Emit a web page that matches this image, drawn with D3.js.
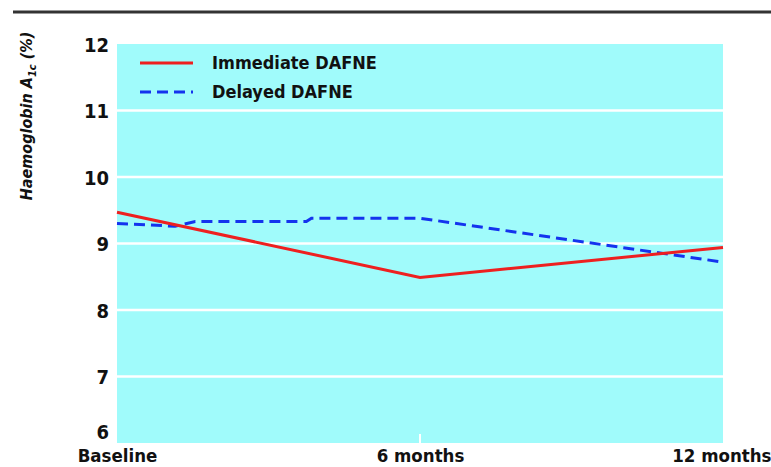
<!DOCTYPE html>
<html><head><meta charset="utf-8">
<script src="https://cdn.jsdelivr.net/npm/d3@7"></script>
<style>
body{margin:0;background:#fff;}
text{font-family:"Liberation Sans Narrow","Arial Narrow","DejaVu Sans Condensed",sans-serif;font-weight:bold;fill:#111;}
</style></head><body>
<svg id="c" width="771" height="467"></svg>
<script>
// Data (months on x; values in %)
const xTickValues = [0, 6, 12];
const xTickLabels = ["Baseline", "6 months", "12 months"];
const yTicks = [6, 7, 8, 9, 10, 11, 12];
const seriesNames = ["Immediate DAFNE", "Delayed DAFNE"];
const immediateMonths = [0, 6, 12];
const immediateValues = [9.47, 8.49, 8.94];
const delayedMonths = [0, 1.15, 1.55, 3.75, 3.85, 6, 12];
const delayedValues = [9.30, 9.26, 9.33, 9.33, 9.38, 9.38, 8.72];

const svg = d3.select("#c");
const L = 117, R = 723, T = 44, B = 443;
const x = d3.scaleLinear().domain([0, 12]).range([L, R]);
const y = d3.scaleLinear().domain([6, 12]).range([B, T]);

// top rule
svg.append("line").attr("x1", 13).attr("x2", 771).attr("y1", 12).attr("y2", 12)
  .attr("stroke", "#333").attr("stroke-width", 3);

// plot background
svg.append("rect").attr("x", L).attr("y", T).attr("width", R - L).attr("height", B - T)
  .attr("fill", "#a0fbfb");

// grid lines
svg.append("g").selectAll("line").data(yTicks.filter(d => d > 6 && d < 12)).join("line")
  .attr("x1", L).attr("x2", R).attr("y1", d => y(d)).attr("y2", d => y(d))
  .attr("stroke", "#fff").attr("stroke-width", 2.5);

// y axis labels
const yAxis = d3.axisLeft(y).tickValues(yTicks).tickSize(0).tickPadding(8).tickFormat(d3.format("d"));
const gy = svg.append("g").attr("transform", `translate(${L},0)`).call(yAxis);
gy.select(".domain").remove();
gy.selectAll("text").style("font-size", "20px").attr("fill", "#111")
  .attr("dy", d => d === 6 ? "-0.25em" : "0.36em");

// x axis
const xAxis = d3.axisBottom(x).tickValues(xTickValues).tickSize(0).tickPadding(6)
  .tickFormat((d, i) => xTickLabels[i]);
const gx = svg.append("g").attr("transform", `translate(0,${B})`).call(xAxis);
gx.select(".domain").remove();
gx.selectAll("text").style("font-size", "18.5px").attr("fill", "#111")
  .attr("text-anchor", (d, i) => i === 2 ? "end" : "middle")
  .attr("dx", (d, i) => i === 2 ? 48 : 0);
// small white tick at 6 months inside plot
svg.append("g").selectAll("line").data(xTickValues.slice(1, 2)).join("line")
  .attr("x1", d => x(d)).attr("x2", d => x(d)).attr("y1", B).attr("y2", B - 9)
  .attr("stroke", "#fff").attr("stroke-width", 2);

// lines
const line = d3.line().x(d => x(d[0])).y(d => y(d[1]));
svg.append("path").datum(delayedMonths.map((m, i) => [m, delayedValues[i]]))
  .attr("d", line).attr("fill", "none").attr("stroke", "#1433ee").attr("stroke-width", 3)
  .attr("stroke-dasharray", "11,6");
svg.append("path").datum(immediateMonths.map((m, i) => [m, immediateValues[i]]))
  .attr("d", line).attr("fill", "none").attr("stroke", "#ee2020").attr("stroke-width", 3);

// legend
const leg = svg.append("g");
const legY = [63, 92];
const legStyles = [{c: "#ee2020", d: null}, {c: "#1433ee", d: "11,6"}];
seriesNames.forEach((n, i) => {
  leg.append("line").attr("x1", 140).attr("x2", 193).attr("y1", legY[i]).attr("y2", legY[i])
    .attr("stroke", legStyles[i].c).attr("stroke-width", 3)
    .attr("stroke-dasharray", legStyles[i].d);
  leg.append("text").attr("x", 212).attr("y", legY[i]).attr("dy", "0.36em")
    .style("font-size", "18px").text(n);
});

// y title
const yt = svg.append("text").attr("transform", "translate(32,116) rotate(-90)")
  .attr("text-anchor", "middle").style("font-size", "16px").style("font-style", "italic");
yt.append("tspan").text("Haemoglobin A");
yt.append("tspan").attr("dy", 4).style("font-size", "11px").text("1c");
yt.append("tspan").attr("dy", -4).text(" (%)");
</script>
</body></html>
